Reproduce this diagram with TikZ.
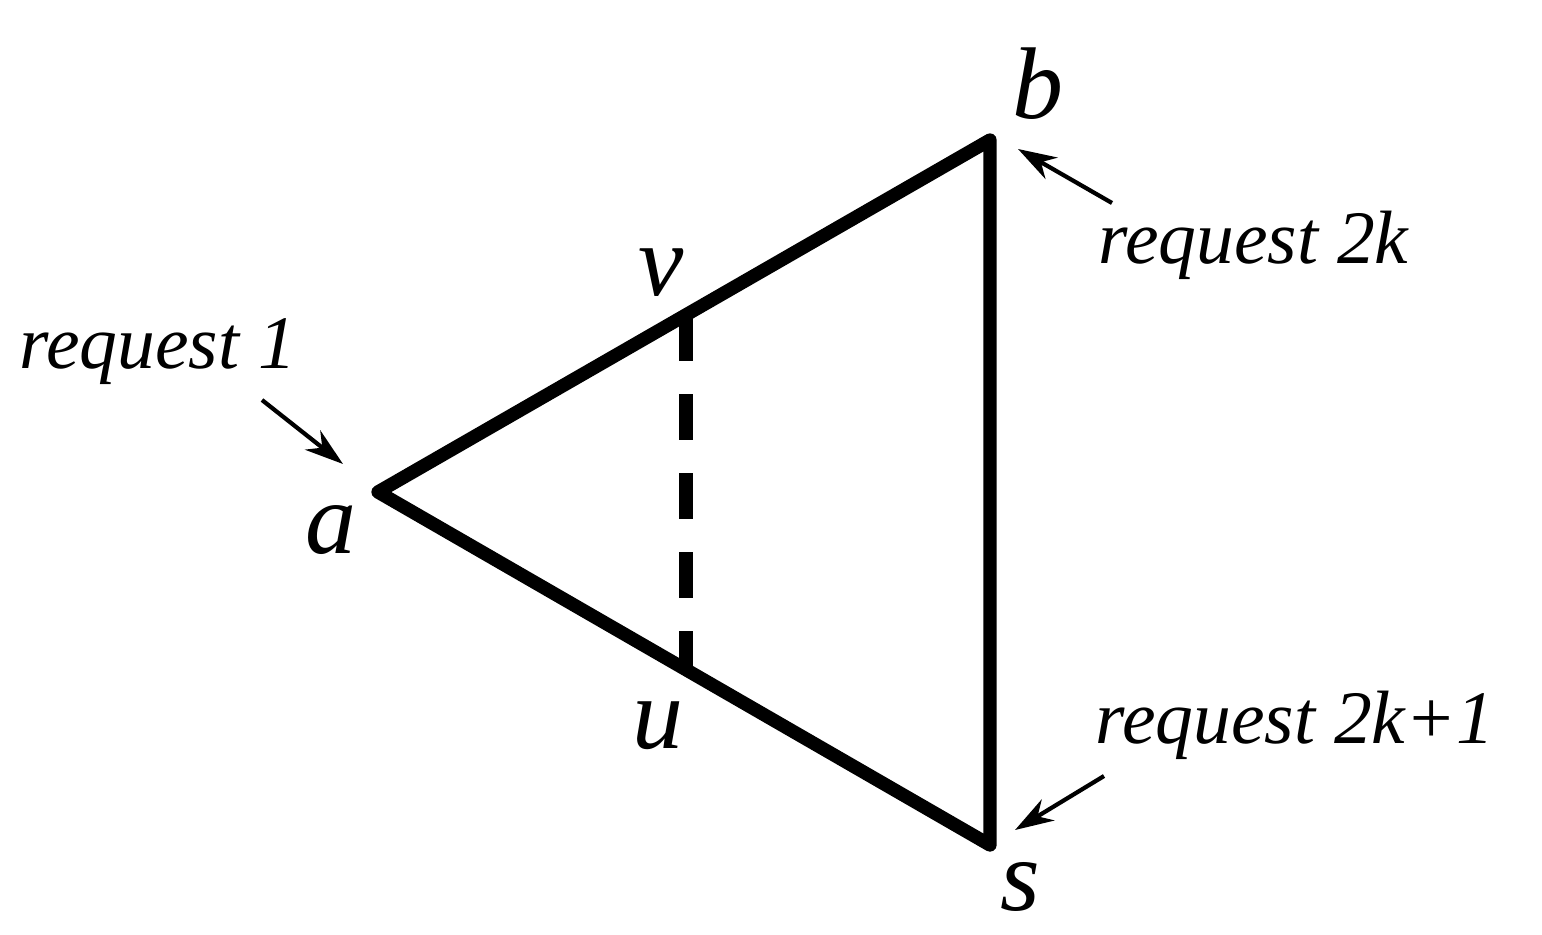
\documentclass[tikz,border=0pt]{standalone}
\usepackage{fontspec}
\setmainfont{Liberation Serif}
\usetikzlibrary{arrows.meta}

\begin{document}
\begin{tikzpicture}[
    vertex/.style={font=\fontsize{29}{34}\selectfont\itshape, inner sep=0pt, anchor=base west},
    request/.style={font=\fontsize{21.5}{26}\selectfont\itshape, inner sep=0pt, anchor=base west},
    edge/.style={line width=3.8pt, line join=round},
    pointer/.style={line width=1.2pt, -{Stealth[length=11pt, width=7pt, inset=3.5pt]}}
  ]
      \useasboundingbox (0,0) rectangle (15.42,9.34);
      % corners of the triangle
      \coordinate (a) at (3.78, 4.42);
      \coordinate (b) at (9.90, 7.94);
      \coordinate (s) at (9.90, 0.89);
      \coordinate (v) at (6.86, 6.19);
      \coordinate (u) at (6.86, 2.65);
      \draw[edge] (a) -- (b) -- (s) -- cycle;
      \draw[edge, dash pattern=on 13pt off 9.5pt] (v) -- (u);
      % letters
      \node[vertex] (alab) at (3.05, 3.81) {a};
      \node[vertex] (blab) at (10.12, 8.16) {b};
      \node[vertex] (slab) at (10.00, 0.24) {s};
      \node[vertex] (vlab) at (6.38, 6.39) {v};
      \node[vertex] (ulab) at (6.32, 1.86) {u};
      % requests
      \node[request] (req1) at (0.19, 5.66) {request 1};
      \node[request] (req2k) at (10.98, 6.71) {request 2k};
      \node[request] (req2k1) at (10.95, 1.91) {request 2k+1};
      \coordinate (r1from) at (2.62, 5.34);
      \coordinate (r1to) at (3.43, 4.70);
      \coordinate (r2from) at (11.12, 7.31);
      \coordinate (r2to) at (10.18, 7.85);
      \coordinate (r3from) at (11.04, 1.58);
      \coordinate (r3to) at (10.15, 1.04);
      \draw[pointer] (r1from) -- (r1to);
      \draw[pointer] (r2from) -- (r2to);
      \draw[pointer] (r3from) -- (r3to);
    \end{tikzpicture}
\end{document}
